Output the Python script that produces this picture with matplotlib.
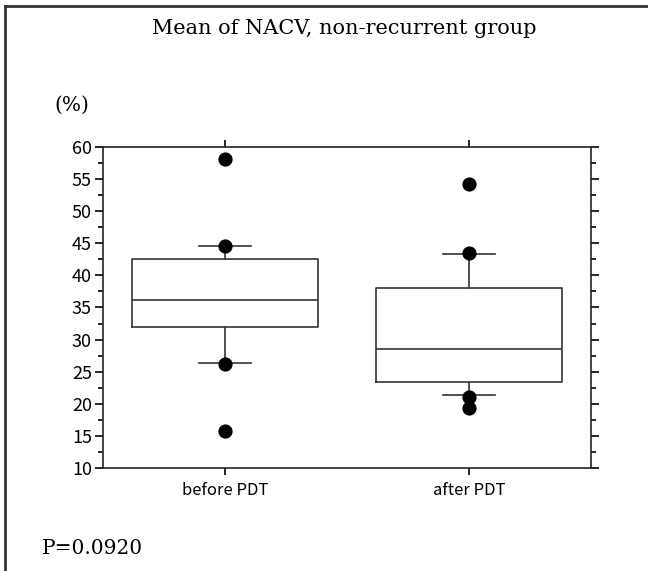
import matplotlib
matplotlib.use('Agg')
import matplotlib.pyplot as plt
from matplotlib.ticker import MultipleLocator

groups = ['before PDT', 'after PDT']
# box stats
q1 = [31.9, 23.4]
med = [36.1, 28.6]
q3 = [42.5, 38.1]
whislo = [26.4, 21.3]
whishi = [44.6, 43.3]
points = [
    [58.1, 44.6, 26.2, 15.7],
    [54.3, 43.5, 21.0, 19.3],
]

fig = plt.figure(figsize=(6.48, 5.71), dpi=100)
ax = fig.add_axes([0.159, 0.1804, 0.753, 0.5622])

stats = []
for i, g in enumerate(groups):
    stats.append(dict(label=g, q1=q1[i], med=med[i], q3=q3[i],
                      whislo=whislo[i], whishi=whishi[i], fliers=[]))

ax.bxp(stats, positions=[1, 2], widths=0.765, capwidths=0.214, showfliers=False,
       boxprops=dict(color='#333333', linewidth=1.2),
       medianprops=dict(color='#333333', linewidth=1.2),
       whiskerprops=dict(color='#333333', linewidth=1.2),
       capprops=dict(color='#333333', linewidth=1.2))

for i, pts in enumerate(points):
    ax.scatter([i + 1] * len(pts), pts, s=85, color='black', zorder=5)

ax.set_xlim(0.5, 2.5)
ax.set_ylim(10, 60)
ax.yaxis.set_major_locator(MultipleLocator(5))
ax.yaxis.set_minor_locator(MultipleLocator(2.5))
ax.set_xticks([1, 2])
ax.set_xticklabels(groups)

tick_font = ['Noto Sans CJK JP', 'DejaVu Sans']
for lab in ax.get_xticklabels():
    lab.set_family(tick_font)
    lab.set_fontsize(12)
for lab in ax.get_yticklabels():
    lab.set_family(tick_font)
    lab.set_fontsize(13)

ax.tick_params(axis='y', which='major', direction='out', length=6, width=1.2,
               left=True, right=True, pad=2)
ax.tick_params(axis='y', which='minor', direction='out', length=3.5, width=1.2,
               left=True, right=True)
ax.tick_params(axis='x', which='major', direction='out', length=5, width=1.2,
               top=True, bottom=True, pad=5)
for sp in ax.spines.values():
    sp.set_linewidth(1.2)
    sp.set_color('#222222')

fig.text(0.532, 0.950, 'Mean of NACV, non-recurrent group', ha='center', va='center',
         family='DejaVu Serif', fontsize=15)
fig.text(0.084, 0.815, '(%)', ha='left', va='center', family='DejaVu Serif', fontsize=14.5)
fig.text(0.064, 0.039, 'P=0.0920', ha='left', va='center', family='DejaVu Serif', fontsize=14.5)

# outer frame (left and top edges)
fig.add_artist(plt.Line2D([0.008, 0.008], [0, 0.99], color='#333333', linewidth=2,
                          transform=fig.transFigure))
fig.add_artist(plt.Line2D([0.008, 1.0], [0.99, 0.99], color='#333333', linewidth=2,
                          transform=fig.transFigure))

fig.savefig('out.png', dpi=100)
